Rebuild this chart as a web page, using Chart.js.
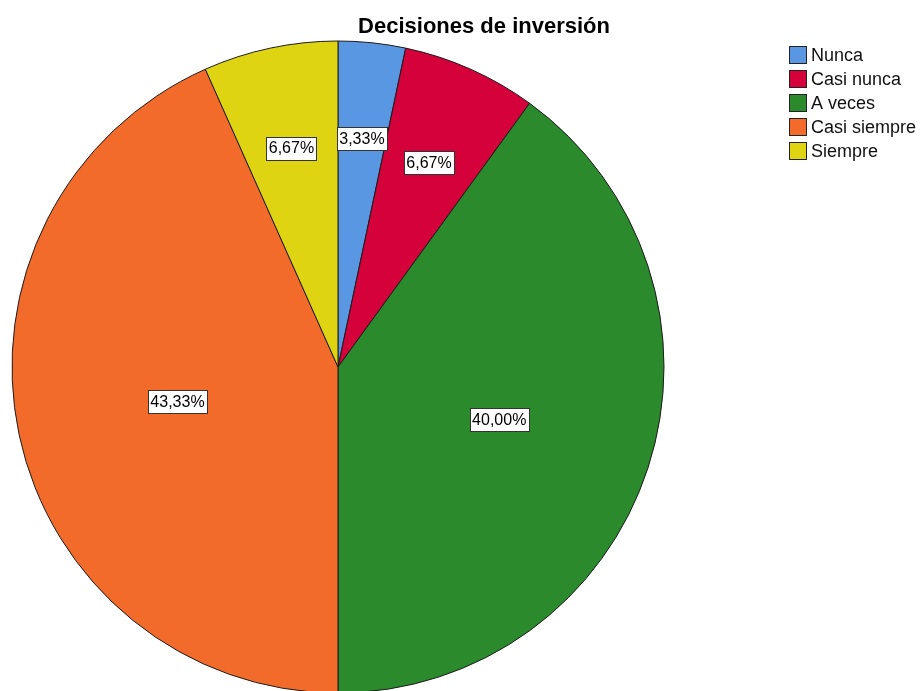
<!DOCTYPE html>
<html>
<head>
<meta charset="utf-8">
<script src="https://cdn.jsdelivr.net/npm/chart.js@4"></script>
<style>
  body { margin: 0; background: #fff; }
  #wrap { width: 924px; height: 691px; }
</style>
</head>
<body>
<div id="wrap"><canvas id="pie-chart" width="924" height="691"></canvas></div>
<script>
const categories = ['Nunca', 'Casi nunca', 'A veces', 'Casi siempre', 'Siempre'];
const percentages = [3.33, 6.67, 40.00, 43.33, 6.67];
const sliceColors = ['#5a97e3', '#d5013a', '#2a8a2c', '#f26b2b', '#dfd412'];
const chartTitle = 'Decisiones de inversión';

const fontFamily = '"Liberation Sans", Arial, sans-serif';

// etiquetas de porcentaje dentro de cada sector
const sliceLabels = {
    id: 'sliceLabels',
    afterDatasetsDraw(chart) {
        const ctx = chart.ctx;
        const meta = chart.getDatasetMeta(0);
        const total = percentages.reduce((a, b) => a + b, 0);
        ctx.save();
        ctx.font = '16px ' + fontFamily;
        ctx.textAlign = 'center';
        ctx.textBaseline = 'middle';
        meta.data.forEach((arc, i) => {
            const p = arc.getProps(['x', 'y', 'startAngle', 'endAngle', 'outerRadius'], true);
            const frac = percentages[i] / total;
            const mid = (p.startAngle + p.endAngle) / 2;
            const r = p.outerRadius * (0.72 - 0.5 * frac);
            const x = p.x + Math.cos(mid) * r;
            const y = p.y + Math.sin(mid) * r;
            const text = percentages[i].toFixed(2).replace('.', ',') + '%';
            const w = Math.round(ctx.measureText(text).width + 5);
            const h = 23;
            const bx = Math.round(x - w / 2) + 0.5;
            const by = Math.round(y - h / 2) + 0.5;
            ctx.fillStyle = '#ffffff';
            ctx.fillRect(bx, by, w, h);
            ctx.strokeStyle = '#333333';
            ctx.lineWidth = 1;
            ctx.strokeRect(bx, by, w, h);
            ctx.fillStyle = '#000000';
            ctx.fillText(text, x, y + 1);
        });
        ctx.restore();
    }
};

// título y leyenda a la manera de SPSS
const titleAndLegend = {
    id: 'titleAndLegend',
    afterDraw(chart) {
        const ctx = chart.ctx;
        ctx.save();
        ctx.fillStyle = '#000000';
        ctx.font = 'bold 22px ' + fontFamily;
        ctx.textAlign = 'center';
        ctx.textBaseline = 'alphabetic';
        ctx.fillText(chartTitle, 484, 33);

        ctx.font = '18px ' + fontFamily;
        ctx.textAlign = 'left';
        ctx.textBaseline = 'middle';
        chart.data.labels.forEach((label, i) => {
            const y = 46 + i * 24;
            ctx.fillStyle = chart.data.datasets[0].backgroundColor[i];
            ctx.fillRect(789.5, y + 0.5, 17, 17);
            ctx.strokeStyle = '#222222';
            ctx.lineWidth = 1;
            ctx.strokeRect(789.5, y + 0.5, 17, 17);
            ctx.fillStyle = '#111111';
            ctx.fillText(label, 811, y + 10);
        });
        ctx.restore();
    }
};

new Chart(document.getElementById('pie-chart').getContext('2d'), {
    type: 'pie',
    data: {
        labels: categories,
        datasets: [{
            data: percentages,
            backgroundColor: sliceColors,
            borderColor: '#1c1c1c',
            borderWidth: 1,
            radius: 326
        }]
    },
    options: {
        responsive: false,
        animation: false,
        layout: {
            padding: { left: 12, right: 260, top: 43, bottom: 0 }
        },
        plugins: {
            legend: { display: false },
            title: { display: false },
            tooltip: { enabled: false }
        }
    },
    plugins: [sliceLabels, titleAndLegend]
});
</script>
</body>
</html>
